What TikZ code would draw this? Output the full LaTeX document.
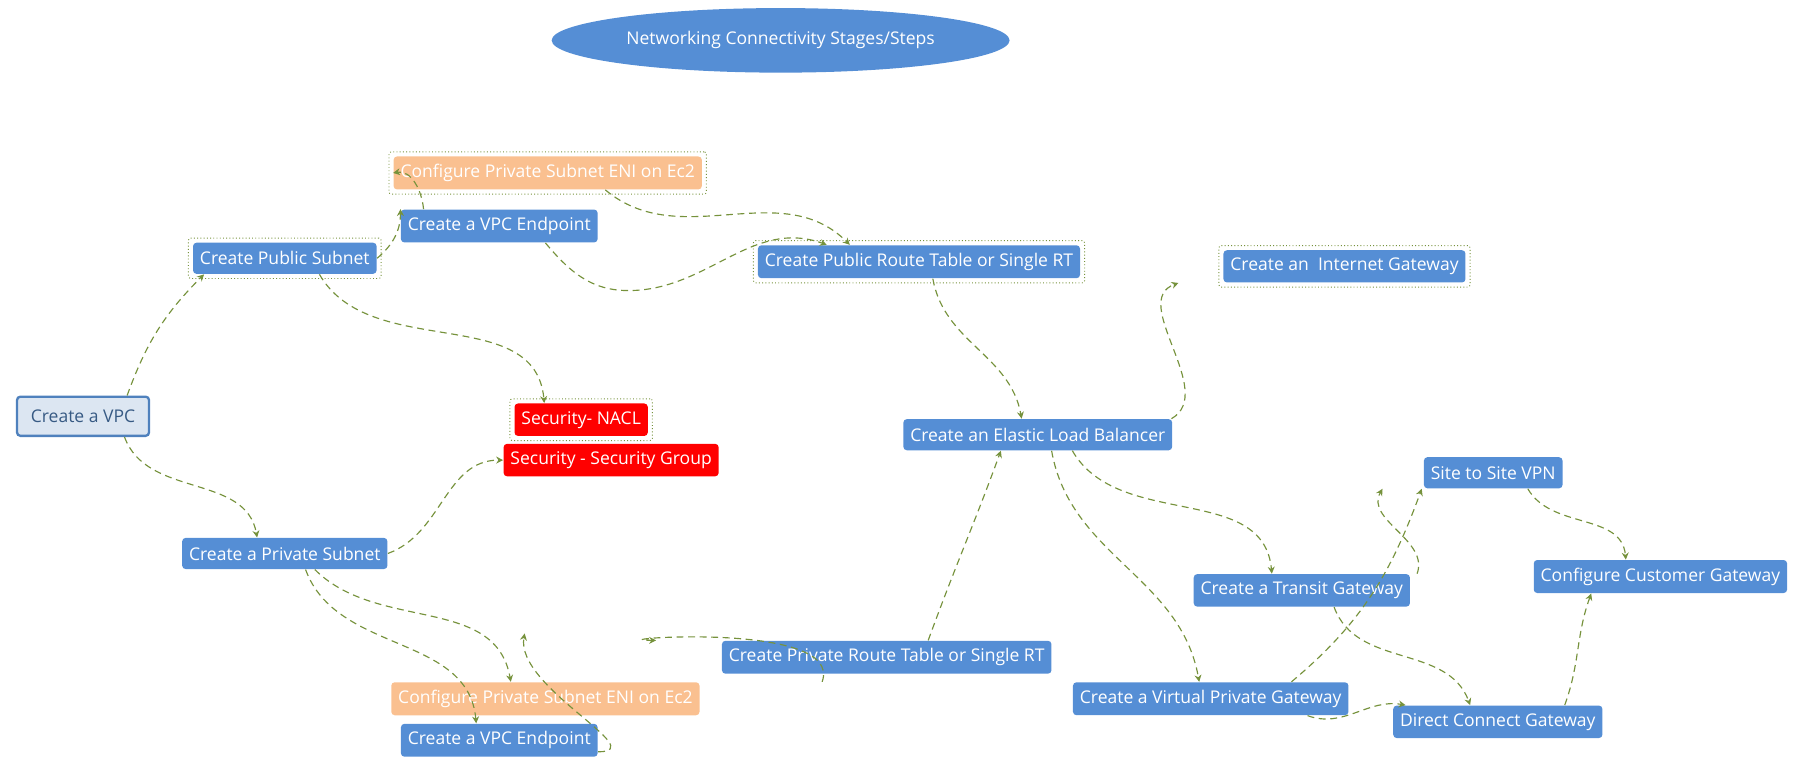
\documentclass[tikz,border=0pt]{standalone}
\usepackage{fontspec}
\setmainfont{Open Sans}
\usetikzlibrary{shapes.geometric}
\usetikzlibrary{arrows.meta, positioning, fit}
\definecolor{stepblue}{HTML}{558ED5}
\definecolor{vpcfill}{HTML}{DCE6F2}
\definecolor{vpcline}{HTML}{4F81BD}
\definecolor{enifill}{HTML}{FAC090}
\definecolor{linkgreen}{HTML}{76923C}
\tikzset{
  stage/.style={fill=stepblue, text=white, rounded corners=1.5pt, minimum height=13.5pt, inner xsep=3pt, font=\fontsize{7.6}{9}\selectfont},
  eni/.style={stage, fill=enifill},
  alert/.style={stage, fill=red},
  frame/.style={draw=linkgreen, densely dotted, inner sep=1.8pt, rounded corners=1pt},
  link/.style={draw=linkgreen, densely dashed, -{Stealth[length=3pt,width=3pt]}, line width=0.5pt}
}
\begin{document}
\begin{tikzpicture}[x=0.5pt, y=-0.5pt]
\useasboundingbox (0,0) rectangle (1568,663);

% Title
\node[ellipse, fill=stepblue, text=white, minimum width=172pt, minimum height=28pt, font=\fontsize{7.6}{9}\selectfont] (title) at (677,35) {Networking Connectivity Stages/Steps};

% Steps
\node[stage, fill=vpcfill, draw=vpcline, line width=1pt, text=vpcline!70!black, minimum height=17pt, inner xsep=6pt] (vpc) at (72,361) {Create a VPC};
\node[stage] (pubsub) at (247,224) {Create Public Subnet};
\node[stage] (pubep) at (433,196) {Create a VPC Endpoint};
\node[eni] (pubeni) at (475,150) {Configure Private Subnet ENI on Ec2};
\node[stage] (pubrt) at (797,227) {Create Public Route Table or Single RT};
\node[stage] (igw) at (1166,231) {Create an \ Internet Gateway};
\node[alert] (nacl) at (504,364) {Security- NACL};
\node[alert] (sg) at (530,399) {Security - Security Group};
\node[stage] (elb) at (900,377) {Create an Elastic Load Balancer};
\node[stage] (privsub) at (247,480) {Create a Private Subnet};
\node[eni] (priveni) at (473,606) {Configure Private Subnet ENI on Ec2};
\node[stage] (privep) at (433,642) {Create a VPC Endpoint};
\node[stage] (privrt) at (769,570) {Create Private Route Table or Single RT};
\node[stage] (vpn) at (1295,410) {Site to Site VPN};
\node[stage] (cgw) at (1440,500) {Configure Customer Gateway};
\node[stage] (tgw) at (1129,512) {Create a Transit Gateway};
\node[stage] (vgw) at (1050,606) {Create a Virtual Private Gateway};
\node[stage] (dcg) at (1299,626) {Direct Connect Gateway};

% Dotted frames
\foreach \n in {pubsub, pubeni, pubrt, igw, nacl}
  \node[frame, fit=(\n)] {};

% Links
\draw[link] (vpc.north east) ++(-20,0) to[out=70, in=225] ([xshift=-35]pubsub.south);
\draw[link] ([xshift=18]vpc.south) to[out=-70, in=100] ([xshift=-12]privsub.north);
\draw[link] ([xshift=15]pubsub.south) to[out=-60, in=95] ([xshift=-16]nacl.north);
\draw[link] (pubsub.east) to[out=40, in=-90] (pubep.north west);
\draw[link] ([xshift=10]pubep.north west) to[out=95, in=10] (pubeni.west);
\draw[link] ([xshift=25]pubeni.south) to[out=-40, in=135] ([xshift=-30]pubrt.north);
\draw[link] ([xshift=20]pubep.south) to[out=-50, in=180] (545,252) to[out=0, in=160] ([xshift=-40]pubrt.north);
\draw[link] ([xshift=6]pubrt.south) to[out=-80, in=100] ([xshift=-7]elb.north);
\draw[link] ([xshift=58]elb.north) to[out=30, in=200] ([xshift=-72]igw.south);
\draw[link] ([xshift=15]elb.south) to[out=-60, in=95] ([xshift=-13]tgw.north);
\draw[link] ([xshift=6]elb.south) to[out=-80, in=100] ([xshift=-5]vgw.north);
\draw[link] (privsub.east) to[out=20, in=180] (sg.west);
\draw[link] ([xshift=13]privsub.south) to[out=-45, in=100] ([xshift=-15]priveni.north);
\draw[link] ([xshift=9]privsub.south) to[out=-70, in=95] ([xshift=-10]privep.north);
\draw[link] ([yshift=-5]privep.east) to[out=0, in=-100] ([xshift=-157,yshift=3]privrt.north);
\draw[link] ([xshift=120]priveni.north) to[out=70, in=180] ([xshift=-100]privrt.north);
\draw[link] ([xshift=18]privrt.north) to[out=70, in=-110] ([xshift=-16]elb.south);
\draw[link] ([xshift=50]tgw.north) to[out=70, in=-120] ([xshift=-48]vpn.south);
\draw[link] ([xshift=35]vgw.north) to[out=40, in=-110] ([xshift=-31]vpn.south);
\draw[link] ([xshift=14]tgw.south) to[out=-70, in=110] ([xshift=-12]dcg.north);
\draw[link] ([xshift=42]vgw.south) to[out=-20, in=170] ([xshift=-40]dcg.north);
\draw[link] ([xshift=15]vpn.south) to[out=-60, in=95] ([xshift=-15]cgw.north);
\draw[link] ([xshift=29]dcg.north) to[out=70, in=-110] ([xshift=-30]cgw.south);
\end{tikzpicture}
\end{document}
